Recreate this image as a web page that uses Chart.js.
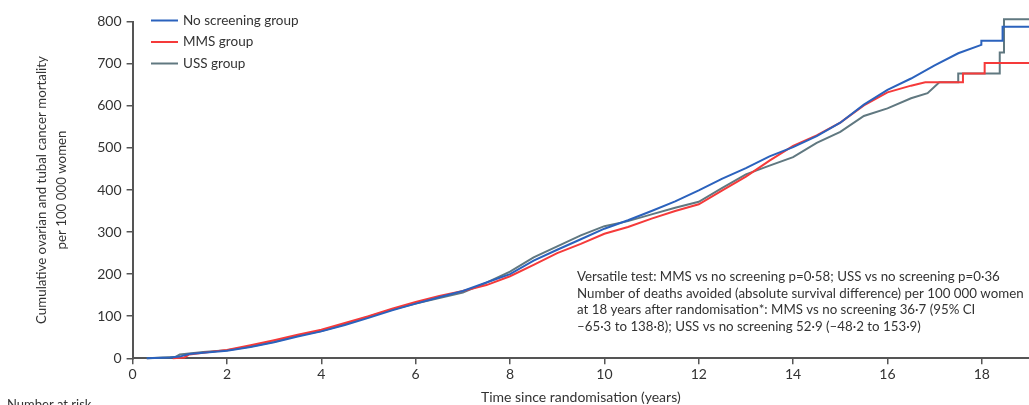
<!DOCTYPE html>
<html>
<head>
<meta charset="utf-8">
<script src="https://cdn.jsdelivr.net/npm/chart.js@4.4.1/dist/chart.umd.min.js"></script>
<style>
  html, body { margin: 0; padding: 0; background: #ffffff; }
  #wrap { width: 1029px; height: 405px; position: relative; }
</style>
</head>
<body>
<div id="wrap"><canvas id="c" width="1029" height="405"></canvas></div>
<script>
// ---------------- data ----------------
const xTicks = [0, 2, 4, 6, 8, 10, 12, 14, 16, 18];
const yTicks = [0, 100, 200, 300, 400, 500, 600, 700, 800];
const seriesNames = ['No screening group', 'MMS group', 'USS group'];

const noScreenTime = [0.3, 0.8, 1.0, 1.2, 1.5, 2.0, 2.5, 3.0, 3.5, 4.0, 4.5, 5.0, 5.5, 6.0, 6.5, 7.0, 7.5, 8.0, 8.5, 9.0, 9.5, 10.0, 10.5, 11.0, 11.5, 12.0, 12.5, 13.0, 13.5, 14.0, 14.5, 15.0, 15.5, 16.0, 16.5, 17.0, 17.5, 17.99, 17.99, 18.44, 18.44, 19.0];
const noScreenValue = [0, 2, 4, 10, 13, 18, 27, 38, 52, 64, 79, 96, 114, 130, 145, 160, 180, 200, 232, 258, 283, 308, 328, 350, 373, 399, 427, 452, 480, 502, 528, 560, 603, 638, 665, 696, 725, 745, 755, 755, 788, 788];

const mmsTime = [0.85, 1.1, 1.2, 1.5, 2.0, 2.5, 3.0, 3.5, 4.0, 4.5, 5.0, 5.5, 6.0, 6.5, 7.0, 7.5, 8.0, 8.5, 9.0, 9.5, 10.0, 10.5, 11.0, 11.5, 12.0, 12.5, 13.0, 13.5, 14.0, 14.5, 15.0, 15.5, 16.0, 16.5, 16.8, 17.6, 17.6, 18.06, 18.06, 19.0];
const mmsValue = [0, 2, 9, 13, 20, 31, 43, 56, 68, 84, 100, 118, 134, 148, 160, 174, 195, 222, 250, 272, 296, 312, 332, 350, 366, 399, 432, 470, 505, 530, 560, 601, 632, 648, 656, 656, 677, 677, 702, 702];

const ussTime = [0.3, 0.9, 1.0, 1.5, 2.0, 2.5, 3.0, 3.5, 4.0, 4.5, 5.0, 5.5, 6.0, 6.5, 7.0, 7.5, 8.0, 8.5, 9.0, 9.5, 10.0, 10.5, 11.0, 11.5, 12.0, 12.5, 13.0, 13.5, 14.0, 14.5, 15.0, 15.5, 16.0, 16.5, 16.85, 17.1, 17.5, 17.5, 18.38, 18.38, 18.47, 18.47, 19.0];
const ussValue = [0, 3, 9, 15, 19, 28, 39, 54, 65, 81, 99, 116, 130, 143, 156, 180, 206, 240, 266, 292, 314, 326, 342, 358, 372, 405, 437, 458, 478, 512, 538, 576, 594, 618, 630, 656, 656, 677, 677, 727, 727, 806, 806];

const yTitleLines = ['Cumulative ovarian and tubal cancer mortality', 'per 100 000 women'];
const xTitle = 'Time since randomisation (years)';
const noteLines = [
  'Versatile test: MMS vs no screening p=0·58; USS vs no screening p=0·36',
  'Number of deaths avoided (absolute survival difference) per 100 000 women',
  'at 18 years after randomisation*: MMS vs no screening 36·7 (95% CI',
  '–65·3 to 138·8); USS vs no screening 52·9 (–48·2 to 153·9)'
];
const riskLabel = 'Number at risk';

// ---------------- styles ----------------
const colors = ['#2b62bd', '#f53a3a', '#607880'];
const FONT = 'Lato, "Open Sans", "DejaVu Sans", sans-serif';
const TEXT = '#333333';
const AXIS = '#555555';

function pts(t, v) { return t.map((x, i) => ({ x: x, y: v[i] })); }

const annotations = {
  id: 'annotations',
  afterDraw(chart) {
    const ctx = chart.ctx;
    const xs = chart.scales.x, ys = chart.scales.y;
    ctx.save();
    ctx.fillStyle = TEXT;

    // legend
    ctx.font = '13.5px ' + FONT;
    ctx.textBaseline = 'middle';
    ctx.textAlign = 'left';
    chart.data.datasets.forEach((ds, i) => {
      const y = 20.5 + i * 21.5;
      ctx.strokeStyle = ds.borderColor;
      ctx.lineWidth = 2;
      ctx.beginPath();
      ctx.moveTo(151, y);
      ctx.lineTo(178, y);
      ctx.stroke();
      ctx.fillText(ds.label, 183, y);
    });

    // note text
    ctx.font = '13.3px ' + FONT;
    noteLines.forEach((line, i) => {
      ctx.fillText(line, 577, 276.5 + i * 16.8);
    });

    // x title
    ctx.textAlign = 'center';
    ctx.font = '14px ' + FONT;
    ctx.fillText(xTitle, (xs.left + xs.right) / 2, 397);

    // y title
    ctx.save();
    ctx.translate(0, (ys.top + ys.bottom) / 2);
    ctx.rotate(-Math.PI / 2);
    ctx.font = '13.3px ' + FONT;
    ctx.fillText(yTitleLines[0], 0, 42);
    ctx.fillText(yTitleLines[1], 0, 61.5);
    ctx.restore();

    // number at risk (cut by the bottom edge)
    ctx.textAlign = 'left';
    ctx.textBaseline = 'top';
    ctx.font = '13px ' + FONT;
    ctx.fillText(riskLabel, 7, 398);
    ctx.restore();
  }
};

new Chart(document.getElementById('c'), {
  type: 'line',
  data: {
    datasets: [
      { label: seriesNames[0], data: pts(noScreenTime, noScreenValue), borderColor: colors[0] },
      { label: seriesNames[1], data: pts(mmsTime, mmsValue), borderColor: colors[1] },
      { label: seriesNames[2], data: pts(ussTime, ussValue), borderColor: colors[2] }
    ].map(d => Object.assign(d, { borderWidth: 2, pointRadius: 0, tension: 0, fill: false, clip: false }))
  },
  options: {
    responsive: false,
    animation: false,
    devicePixelRatio: 1,
    layout: { padding: { top: 21.7, right: 0, left: 0, bottom: 0 } },
    plugins: { legend: { display: false }, tooltip: { enabled: false } },
    scales: {
      x: {
        type: 'linear', min: 0, max: 19,
        afterBuildTicks: a => { a.ticks = xTicks.map(v => ({ value: v })); },
        afterFit: s => { s.height = 46.7; },
        ticks: { color: TEXT, font: { family: FONT, size: 14 }, padding: 2, maxRotation: 0, autoSkip: false },
        grid: { drawOnChartArea: false, drawTicks: true, tickLength: 6, color: AXIS, lineWidth: 1.5 },
        border: { color: AXIS, width: 2 }
      },
      y: {
        type: 'linear', min: 0, max: 800,
        afterBuildTicks: a => { a.ticks = yTicks.map(v => ({ value: v })); },
        afterFit: s => { s.width = 132.6; },
        ticks: { color: TEXT, font: { family: FONT, size: 14 }, padding: 5 },
        grid: { drawOnChartArea: false, drawTicks: true, tickLength: 6, color: AXIS, lineWidth: 1.5 },
        border: { color: AXIS, width: 2 }
      }
    }
  },
  plugins: [annotations]
});
</script>
</body>
</html>
